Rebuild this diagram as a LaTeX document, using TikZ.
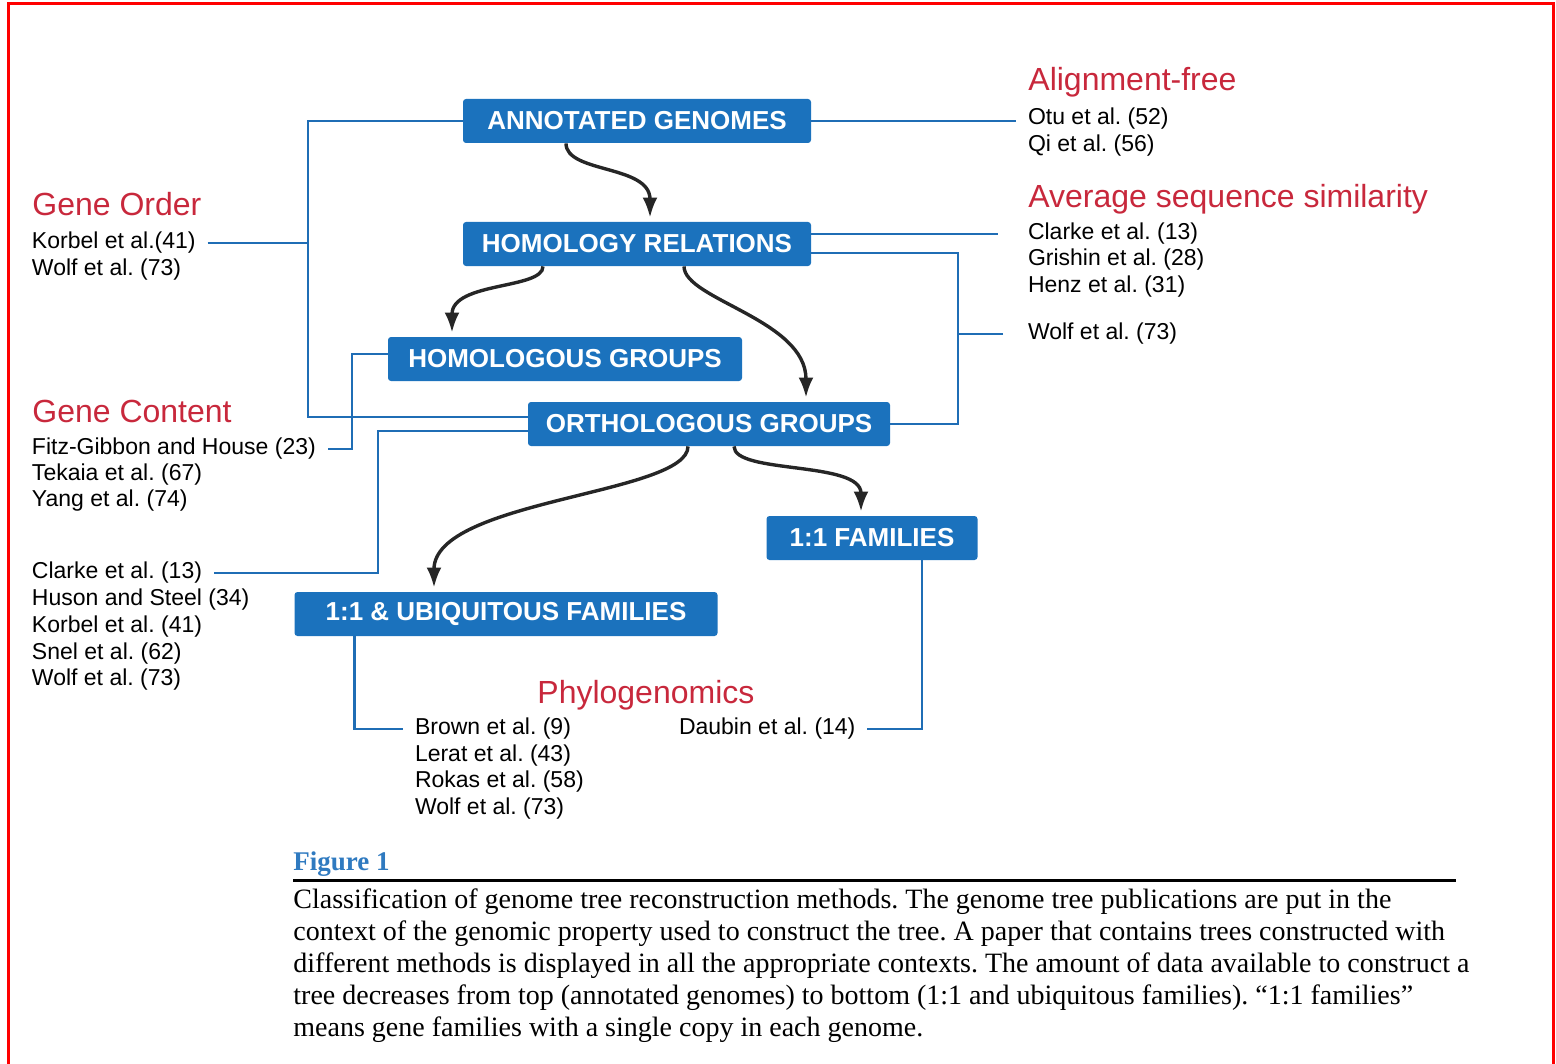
\documentclass[tikz,border=0pt]{standalone}
\usepackage{fontspec}
\setmainfont{Liberation Serif}
\setsansfont{Liberation Sans}
\usetikzlibrary{arrows.meta,positioning}
\definecolor{boxblue}{HTML}{1B72BD}
\definecolor{lineblue}{HTML}{1F6DB5}
\definecolor{headred}{HTML}{C8283C}
\definecolor{figblue}{HTML}{2F7AC0}
\frenchspacing
\tikzset{
  stage/.style={fill=boxblue, rounded corners=1.5pt, text=white, font=\sffamily\bfseries\fontsize{13}{15}\selectfont, minimum height=22pt, inner xsep=0pt},
  method/.style={text=headred, font=\sffamily\fontsize{16}{18}\selectfont, anchor=base west, inner sep=0pt},
  cite/.style={font=\sffamily\fontsize{11.5}{13.4}\selectfont, anchor=west, inner sep=0pt, outer xsep=6pt},
  link/.style={draw=lineblue, line width=1.4pt},
  flow/.style={draw=black!85, line width=1.7pt, shorten >=2pt, -{Latex[length=10pt,width=7.5pt]}},
}
\begin{document}
\begin{tikzpicture}[x=0.5pt, y=-0.5pt]
\useasboundingbox (0,0) rectangle (1556,1064);
\draw[red, line width=1.5pt] (8,4) rectangle (1553,1090);

% the stages
\node[stage, minimum width=174pt] (ag) at (637,121) {ANNOTATED GENOMES};
\node[stage, minimum width=174pt] (hr) at (637,244) {HOMOLOGY RELATIONS};
\node[stage, minimum width=177pt] (hg) at (565,359) {HOMOLOGOUS GROUPS};
\node[stage, minimum width=181pt] (og) at (709,424) {ORTHOLOGOUS GROUPS};
\node[stage, minimum width=105.5pt] (ff) at (872,538) {1:1 FAMILIES};
\node[stage, minimum width=211.5pt] (uf) at (506,614) {1:1 \& UBIQUITOUS FAMILIES};

% headings
\node[method] (alfree) at (1028,91) {Alignment-free};
\node[method] (avgsim) at (1028,208) {Average sequence similarity};
\node[method] (gorder) at (32,216) {Gene Order};
\node[method] (gcontent) at (32,422) {Gene Content};
\node[method] (phylo) at (537,703) {Phylogenomics};

% publications
\node[cite] (otu) at (1016,119) {Otu et al. (52)};
\node[cite] (qi) at (1016,146) {Qi et al. (56)};
\node[cite] (clarkeR) at (1016,234) {Clarke et al. (13)};
\node[cite] (grishin) at (1016,260) {Grishin et al. (28)};
\node[cite] (henz) at (1016,287) {Henz et al. (31)};
\node[cite] (wolfR) at (1016,334) {Wolf et al. (73)};
\node[cite] (korbelO) at (20,243) {Korbel et al.(41)};
\node[cite] (wolfO) at (20,270) {Wolf et al. (73)};
\node[cite] (fitz) at (20,449) {Fitz-Gibbon and House (23)};
\node[cite] (tekaia) at (20,475) {Tekaia et al. (67)};
\node[cite] (yang) at (20,501) {Yang et al. (74)};
\node[cite] (clarkeL) at (20,573) {Clarke et al. (13)};
\node[cite] (huson) at (20,600) {Huson and Steel (34)};
\node[cite] (korbelC) at (20,627) {Korbel et al. (41)};
\node[cite] (snel) at (20,654) {Snel et al. (62)};
\node[cite] (wolfC) at (20,680) {Wolf et al. (73)};
\node[cite] (brown) at (403,729) {Brown et al. (9)};
\node[cite] (lerat) at (403,756) {Lerat et al. (43)};
\node[cite] (rokas) at (403,782) {Rokas et al. (58)};
\node[cite] (wolfP) at (403,809) {Wolf et al. (73)};
\node[cite] (daubin) at (667,729) {Daubin et al. (14)};

% bracket lines
\coordinate (spineL) at (308,0);
\coordinate (spineC) at (352,0);
\coordinate (spineD) at (378,0);
\coordinate (spineR) at (958,0);
\coordinate (ogIn) at ([yshift=3.5pt]og.west);
\draw[link] (ag.west) -| (spineL |- ogIn) -- (ogIn);
\draw[link] (korbelO.east) -- (korbelO.east -| spineL);
\draw[link] (ag.east) -- (ag.east -| otu.west);
\draw[link, shorten >=9pt] ([yshift=5pt]hr.east) -- ([yshift=5pt]hr.east -| clarkeR.west);
\draw[link] ([yshift=-4.5pt]hr.east) -| (spineR |- og.east) -- (og.east);
\draw[link, shorten <=6.5pt] (wolfR.west) -- (wolfR.west -| spineR);
\draw[link] ([yshift=2.5pt]hg.west) -| (spineC |- fitz.east) -- (fitz.east);
\draw[link] ([yshift=-3.5pt]og.west) -| (spineD |- clarkeL.east) -- (clarkeL.east);
\draw[link] ([xshift=30pt]uf.south west) |- (brown.west);
\draw[link] ([xshift=25pt]ff.south) |- (daubin.east);

% flow of data
\draw[flow] ([xshift=-35.5pt]ag.south) .. controls +(0,30) and +(0,-57) .. ([xshift=6.5pt]hr.north);
\draw[flow] ([xshift=-47pt]hr.south) .. controls +(0,23) and +(0,-55) .. ([xshift=-56.5pt]hg.north);
\draw[flow] ([xshift=23.5pt]hr.south) .. controls +(0,33) and +(0,-82) .. ([xshift=48.5pt]og.north);
\draw[flow] ([xshift=-10.5pt]og.south) .. controls +(0,48) and +(0,-92) .. ([xshift=-36pt]uf.north);
\draw[flow] ([xshift=12.5pt]og.south) .. controls +(0,28) and +(0,-55) .. ([xshift=-5.5pt]ff.north);

% caption
\node[anchor=base west, inner sep=0pt, text=figblue, font=\bfseries\fontsize{13.5}{16}\selectfont] (figlab) at (293,870) {Figure 1};
\draw[line width=1.5pt] (293,880) -- (1456,880);
\node[anchor=north west, inner sep=0pt, align=left, font=\fontsize{14}{16}\selectfont] (caption) at (293,888) {Classification of genome tree reconstruction methods. The genome tree publications are put in the\\
context of the genomic property used to construct the tree. A paper that contains trees constructed with\\
different methods is displayed in all the appropriate contexts. The amount of data available to construct a\\
tree decreases from top (annotated genomes) to bottom (1:1 and ubiquitous families). ``1:1 families''\\
means gene families with a single copy in each genome.};
\end{tikzpicture}
\end{document}
